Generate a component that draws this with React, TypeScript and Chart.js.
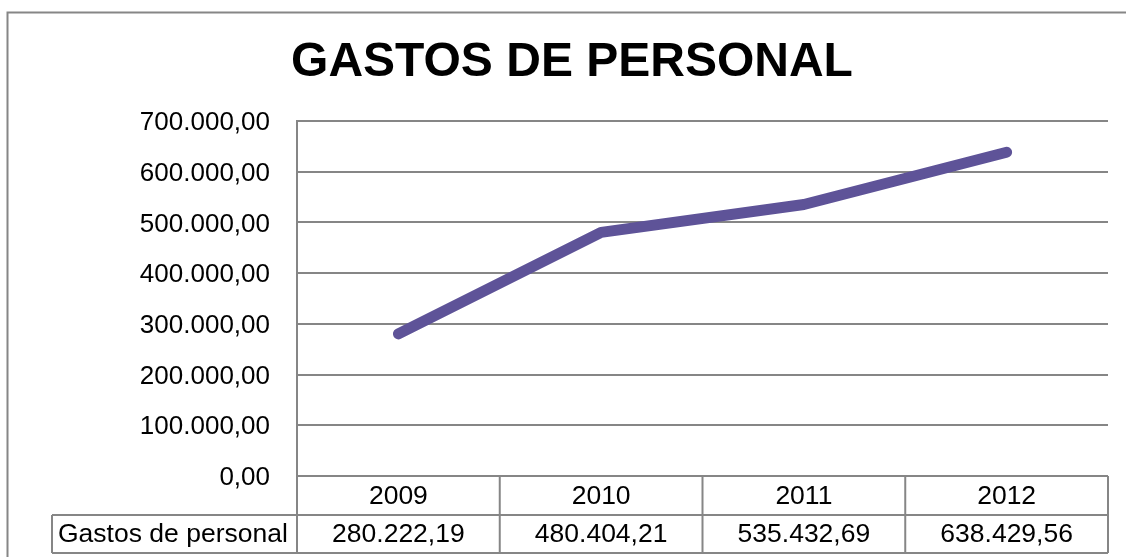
import React, { useEffect, useRef } from 'react';
import { Chart, registerables } from 'chart.js';

Chart.register(...registerables);

const titleText = 'GASTOS DE PERSONAL';
const seriesName = 'Gastos de personal';
const years = ['2009', '2010', '2011', '2012'];
const gastos = [280222.19, 480404.21, 535432.69, 638429.56];
const yMin = 0;
const yMax = 700000;
const yStep = 100000;

const FONT = "'Liberation Sans', Arial, sans-serif";
const GRID = '#868686';
const LINE = '#5E5398';

function fmt(v: number): string {
  const fixed = Math.abs(v).toFixed(2);
  const [intPart, dec] = fixed.split('.');
  const grouped = intPart.replace(/\B(?=(\d{3})+(?!\d))/g, '.');
  return (v < 0 ? '-' : '') + grouped + ',' + dec;
}

const decorPlugin = {
  id: 'excelDecor',
  afterDraw(chart: any) {
    const ctx = chart.ctx as CanvasRenderingContext2D;
    const { left, right, bottom } = chart.chartArea;
    const xs = chart.scales.x;
    const row1Bottom = bottom + 39;
    const row2Bottom = bottom + 77;
    const legendLeft = 52;
    const half = (xs.getPixelForValue(1) - xs.getPixelForValue(0)) / 2;

    ctx.save();
    // outer chart border
    ctx.strokeStyle = GRID;
    ctx.lineWidth = 2;
    ctx.beginPath();
    ctx.moveTo(7.5, chart.height);
    ctx.lineTo(7.5, 12.5);
    ctx.lineTo(chart.width, 12.5);
    ctx.stroke();

    // data table lines
    ctx.beginPath();
    ctx.moveTo(legendLeft, row1Bottom);
    ctx.lineTo(right, row1Bottom);
    ctx.moveTo(legendLeft, row2Bottom);
    ctx.lineTo(right, row2Bottom);
    ctx.moveTo(legendLeft, row1Bottom);
    ctx.lineTo(legendLeft, row2Bottom);
    ctx.moveTo(left, bottom);
    ctx.lineTo(left, row2Bottom);
    for (let i = 0; i < years.length; i++) {
      const bx = xs.getPixelForValue(i) + half;
      ctx.moveTo(bx, bottom);
      ctx.lineTo(bx, row2Bottom);
    }
    ctx.stroke();

    // table text
    ctx.fillStyle = '#000';
    ctx.font = `26.5px ${FONT}`;
    ctx.textBaseline = 'middle';
    ctx.textAlign = 'center';
    for (let i = 0; i < years.length; i++) {
      const cx = xs.getPixelForValue(i);
      ctx.fillText(years[i], cx, (bottom + row1Bottom) / 2 + 1);
      ctx.fillText(fmt(gastos[i]), cx, (row1Bottom + row2Bottom) / 2 + 1);
    }
    ctx.textAlign = 'left';
    ctx.fillText(seriesName, legendLeft + 6, (row1Bottom + row2Bottom) / 2 + 1);

    // title
    ctx.font = `bold 48px ${FONT}`;
    ctx.textAlign = 'center';
    ctx.textBaseline = 'alphabetic';
    ctx.fillText(titleText, 572, 76);
    ctx.restore();
  },
};

export default function App() {
  const ref = useRef<HTMLCanvasElement | null>(null);

  useEffect(() => {
    document.body.style.margin = '0';
    const canvas = ref.current;
    if (!canvas) return;
    const chart = new Chart(canvas, {
      type: 'line',
      data: {
        labels: years,
        datasets: [
          {
            label: seriesName,
            data: gastos,
            borderColor: LINE,
            backgroundColor: LINE,
            borderWidth: 11,
            borderCapStyle: 'round',
            borderJoinStyle: 'round',
            pointRadius: 0,
            pointHoverRadius: 0,
            tension: 0,
            fill: false,
          },
        ],
      },
      options: {
        responsive: false,
        animation: false,
        devicePixelRatio: 1,
        layout: { padding: { top: 121, bottom: 81, left: 0, right: 18 } },
        plugins: {
          legend: { display: false },
          title: { display: false },
          tooltip: { enabled: false },
        },
        scales: {
          x: {
            type: 'category',
            display: false,
            offset: true,
          },
          y: {
            min: yMin,
            max: yMax,
            afterFit: (s: any) => {
              s.width = 297;
            },
            border: { display: true, color: GRID, width: 2 },
            grid: { color: GRID, lineWidth: 2, drawTicks: false },
            ticks: {
              stepSize: yStep,
              padding: 27,
              labelOffset: 2,
              color: '#000',
              font: { family: FONT, size: 26 },
              callback: (v: any) => fmt(Number(v)),
            },
          },
        },
      },
      plugins: [decorPlugin],
    });
    return () => chart.destroy();
  }, []);

  return (
    <div style={{ width: 1126, height: 557, background: '#fff' }}>
      <canvas ref={ref} width={1126} height={557} style={{ display: 'block' }} />
    </div>
  );
}
